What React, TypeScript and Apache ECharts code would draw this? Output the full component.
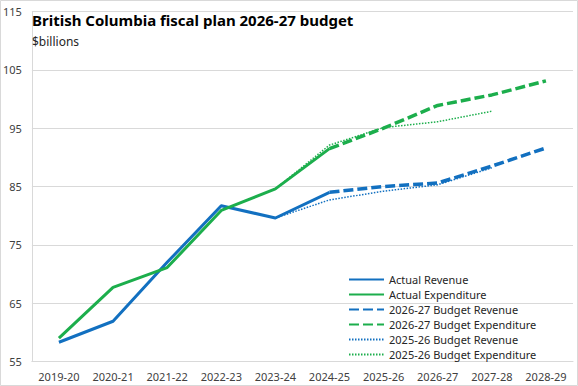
import React, { useEffect, useRef } from "react";
import * as echarts from "echarts";

const categories = ["2019-20", "2020-21", "2021-22", "2022-23", "2023-24", "2024-25", "2025-26", "2026-27", "2027-28", "2028-29"];
const actualRevenue = [58.3, 61.9, 72.0, 81.7, 79.6, 84.0, null, null, null, null];
const actualExpenditure = [59.0, 67.7, 71.1, 80.9, 84.6, 91.5, null, null, null, null];
const budget2627Revenue = [null, null, null, null, null, 84.0, 85.0, 85.6, 88.5, 91.6];
const budget2627Expenditure = [null, null, null, null, null, 91.5, 95.0, 98.9, 100.7, 103.1];
const budget2526Revenue = [null, null, null, null, 79.6, 82.7, 84.2, 85.3, 88.2, null];
const budget2526Expenditure = [null, null, null, null, 84.6, 92.1, 95.1, 96.1, 97.9, null];
const yTicks = { min: 55, max: 115, interval: 10 };

const BLUE = "#1270C0";
const GREEN = "#1CAE4C";
const FONT = "Noto Sans";

export default function App() {
  const ref = useRef<HTMLDivElement>(null);
  useEffect(() => {
    if (!ref.current) return;
    const chart = echarts.init(ref.current, null, { renderer: "svg" });
    const mk = (name: string, data: (number | null)[], color: string, width: number, type: any, z: number) => ({
      name,
      type: "line",
      data,
      symbol: "none",
      showSymbol: false,
      connectNulls: false,
      z,
      lineStyle: { color, width, type, cap: "butt", join: "round" },
      itemStyle: { color },
    });
    chart.setOption({
      animation: false,
      backgroundColor: "#ffffff",
      textStyle: { fontFamily: FONT },
      title: {
        text: "British Columbia fiscal plan 2026-27 budget",
        subtext: "$billions",
        left: 27,
        top: 6,
        itemGap: 5,
        textStyle: { fontFamily: FONT, fontSize: 15, fontWeight: "bold", color: "#000000", lineHeight: 18 },
        subtextStyle: { fontFamily: FONT, fontSize: 12, color: "#262626", lineHeight: 14 },
      },
      grid: { left: 31, right: 5, top: 11.5, bottom: 24.5, containLabel: false },
      xAxis: {
        type: "category",
        data: categories,
        boundaryGap: true,
        axisLine: { show: true, lineStyle: { color: "#d9d9d9", width: 1 } },
        axisTick: { show: false },
        axisLabel: { color: "#404040", fontSize: 11, margin: 9, fontFamily: FONT, interval: 0 },
      },
      yAxis: {
        type: "value",
        min: yTicks.min,
        max: yTicks.max,
        interval: yTicks.interval,
        axisLine: { show: true, lineStyle: { color: "#d9d9d9", width: 1 } },
        axisTick: { show: false },
        axisLabel: { color: "#404040", fontSize: 11, margin: 10, fontFamily: FONT },
        splitLine: { show: true, lineStyle: { color: "#d9d9d9", width: 1 } },
      },
      legend: {
        orient: "vertical",
        left: 343,
        top: 269,
        itemWidth: 35,
        itemHeight: 10,
        itemGap: 4,
        itemStyle: { opacity: 0 },
        textStyle: { fontFamily: FONT, fontSize: 11, color: "#262626" },
        data: [
          "Actual Revenue",
          "Actual Expenditure",
          "2026-27 Budget Revenue",
          "2026-27 Budget Expenditure",
          "2025-26 Budget Revenue",
          "2025-26 Budget Expenditure",
        ],
      },
      graphic: [
        {
          type: "rect",
          shape: { x: 0.5, y: 0.5, width: 577, height: 385 },
          style: { fill: "none", stroke: "#d9d9d9", lineWidth: 1 },
          silent: true,
        },
      ],
      series: [
        mk("2025-26 Budget Revenue", budget2526Revenue, BLUE, 1.5, [1.5, 1.5], 1),
        mk("2025-26 Budget Expenditure", budget2526Expenditure, GREEN, 1.5, [1.5, 1.5], 1),
        mk("2026-27 Budget Revenue", budget2627Revenue, BLUE, 3.5, [10, 4], 2),
        mk("2026-27 Budget Expenditure", budget2627Expenditure, GREEN, 3.5, [10, 4], 2),
        mk("Actual Revenue", actualRevenue, BLUE, 3, "solid", 3),
        mk("Actual Expenditure", actualExpenditure, GREEN, 3, "solid", 3),
      ],
    });
    return () => chart.dispose();
  }, []);
  return <div ref={ref} style={{ position: "fixed", left: 0, top: 0, width: 578, height: 386 }} />;
}
